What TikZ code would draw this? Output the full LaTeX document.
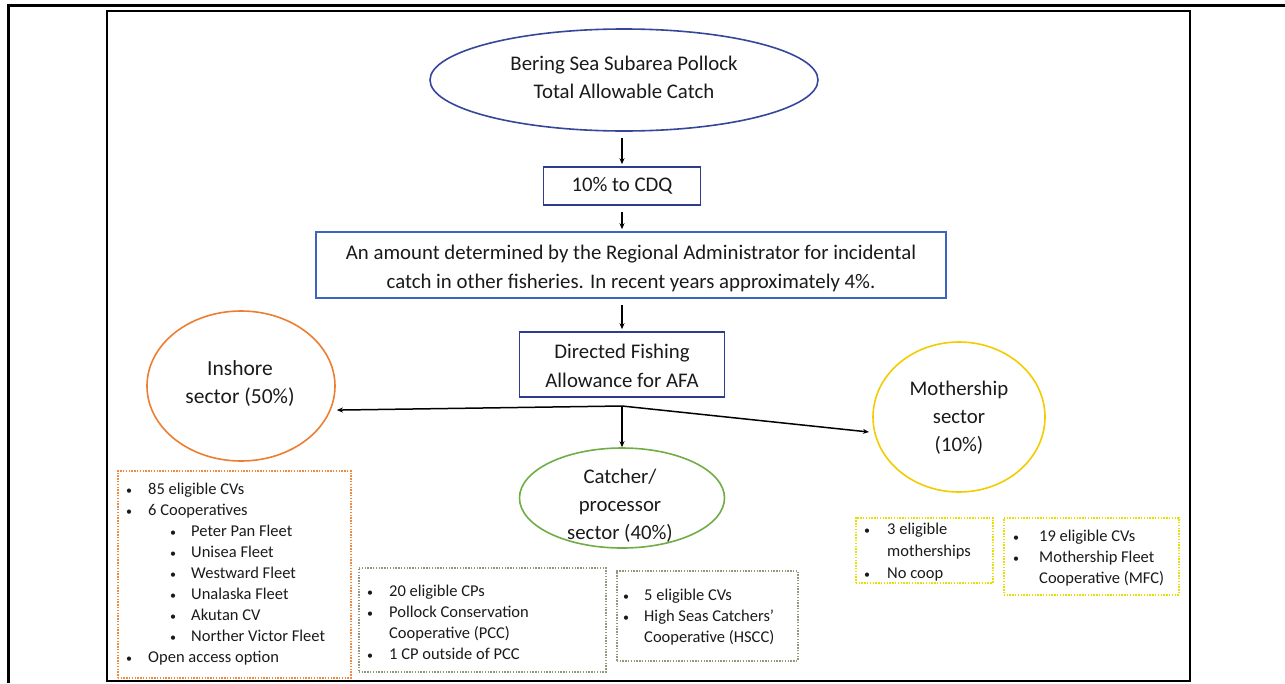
\documentclass[tikz,border=0pt]{standalone}
\usepackage{fontspec}
\setmainfont{Carlito}
\usetikzlibrary{shapes.geometric,arrows.meta}
\definecolor{ellblue}{HTML}{34479A}
\definecolor{boxnavy}{HTML}{2E3C8E}
\definecolor{boxblue}{HTML}{3C64C0}
\definecolor{orng}{HTML}{ED7D31}
\definecolor{grn}{HTML}{70AD47}
\definecolor{ylw}{HTML}{F2CC00}
\definecolor{dotorng}{HTML}{F08A40}
\definecolor{dotgrn}{HTML}{8E9C7A}
\definecolor{dotylw}{HTML}{E6E000}
\definecolor{txt}{HTML}{1A1A1A}
\newcommand{\bl}[2]{\makebox[#1][l]{\raisebox{0.5pt}{\fontsize{12}{12}\selectfont\textbullet}}#2}
\newcommand{\ind}[1]{\hspace*{#1}}
\begin{document}
\begin{tikzpicture}[x=1pt,y=-1pt,
  bigtext/.style={font=\fontsize{20.8}{28}\selectfont, text=txt, align=center, inner sep=0pt},
  flowbox/.style={draw, rectangle, line width=1.6pt, bigtext},
  sectorshape/.style={ellipse, draw, line width=1.6pt, bigtext},
  arr/.style={-{Stealth[length=6pt,width=5pt]}, line width=1.5pt, black},
  dotbox/.style={draw=#1, rectangle, line width=1.5pt, dash pattern=on 1.4pt off 1.4pt, inner sep=0pt, anchor=north west},
  listtext/.style={font=\fontsize{16.5}{21}\selectfont, text=txt, align=left, inner sep=0pt, anchor=north west}]
\useasboundingbox (0,0) rectangle (1285,683);
% frames
\draw[line width=3pt] (8,683) -- (8,5) -- (1285,5);
\draw[line width=1.8pt] (107,11) rectangle (1190,681);

% top of flow
\node[sectorshape, draw=ellblue, minimum width=388pt, minimum height=102pt] (tal) at (624,80) {};
\node[bigtext] (taltext) at (624,77) {Bering Sea Subarea Pollock\\Total Allowable Catch};
\node[flowbox, draw=boxnavy, minimum width=157pt, minimum height=38pt] (cdq) at (622,186) {10\% to CDQ};
\node[flowbox, draw=boxblue, minimum width=630pt, minimum height=66pt] (inc) at (631,265) {};
\node[bigtext, font=\fontsize{20.8}{29}\selectfont] (inctext) at (631,268)
  {An amount determined by the Regional Administrator for incidental\\catch in other fisheries. In recent years approximately 4\%.};
\node[flowbox, draw=boxnavy, minimum width=205pt, minimum height=65pt] (dfa) at (622,364.5) {};
\node[bigtext, font=\fontsize{20.8}{29}\selectfont] (dfatext) at (622,366)
  {Directed Fishing\\Allowance for AFA};

\draw[arr, shorten <=6pt, shorten >=2pt] (tal.south -| cdq.north) -- (cdq.north);
\draw[arr, shorten <=6pt, shorten >=2pt] (cdq.south) -- (cdq.south |- inc.north);
\draw[arr, shorten <=6pt, shorten >=2pt] (inc.south -| dfa.north) -- (dfa.north);

% sectors
\node[sectorshape, draw=orng, minimum width=188pt, minimum height=150pt] (inshore) at (241,386) {};
\node[bigtext, font=\fontsize{21.5}{28}\selectfont] (inshoretext) at (240,384) {Inshore\\sector (50\%)};
\node[sectorshape, draw=grn, minimum width=205pt, minimum height=100pt] (cp) at (622,498) {};
\node[bigtext] (cptext) at (620,506) {Catcher/\\processor\\sector (40\%)};
\node[sectorshape, draw=ylw, minimum width=172pt, minimum height=150pt] (ms) at (959,417) {};
\node[bigtext] (mstext) at (959,418) {Mothership\\sector\\(10\%)};

\coordinate (j) at (622,406);
\draw[arr] (j) -- ([xshift=6pt]inshore.-15);
\draw[arr] (j) -- (cp.north);
\draw[arr] (j) -- ([xshift=-5pt]ms.190);

% detail boxes
\node[dotbox=dotorng, minimum width=233pt, minimum height=207pt] (ib) at (117,470) {};
\node[listtext] (ibt) at (126,483) {\bl{22pt}{85 eligible CVs}\\
  \bl{22pt}{6 Cooperatives}\\
  \ind{44pt}\bl{21pt}{Peter Pan Fleet}\\
  \ind{44pt}\bl{21pt}{Unisea Fleet}\\
  \ind{44pt}\bl{21pt}{Westward Fleet}\\
  \ind{44pt}\bl{21pt}{Unalaska Fleet}\\
  \ind{44pt}\bl{21pt}{Akutan CV}\\
  \ind{44pt}\bl{21pt}{Norther Victor Fleet}\\
  \bl{22pt}{Open access option}};

\node[dotbox=dotgrn, minimum width=247pt, minimum height=104pt] (cpb) at (358,567) {};
\node[listtext] (cpbt) at (367,585) {\bl{22pt}{20 eligible CPs}\\
  \bl{22pt}{Pollock Conservation}\\
  \ind{22pt}Cooperative (PCC)\\
  \bl{22pt}{1 CP outside of PCC}};

\node[dotbox=dotgrn, minimum width=181pt, minimum height=90pt] (cvb) at (616,570) {};
\node[listtext] (cvbt) at (623,589) {\bl{21pt}{5 eligible CVs}\\
  \bl{21pt}{High Seas Catchers'}\\
  \ind{21pt}Cooperative (HSCC)};

\node[dotbox=dotylw, minimum width=137pt, minimum height=65pt] (msb) at (855,517) {};
\node[listtext, font=\fontsize{16.5}{22}\selectfont] (msbt) at (864,523) {\bl{23pt}{3 eligible}\\
  \ind{23pt}motherships\\
  \bl{23pt}{No coop}};

\node[dotbox=dotylw, minimum width=175pt, minimum height=77pt] (mfb) at (1003,517) {};
\node[listtext] (mfbt) at (1013,530) {\bl{26pt}{19 eligible CVs}\\
  \bl{26pt}{Mothership Fleet}\\
  \ind{26pt}Cooperative (MFC)};
\end{tikzpicture}
\end{document}
